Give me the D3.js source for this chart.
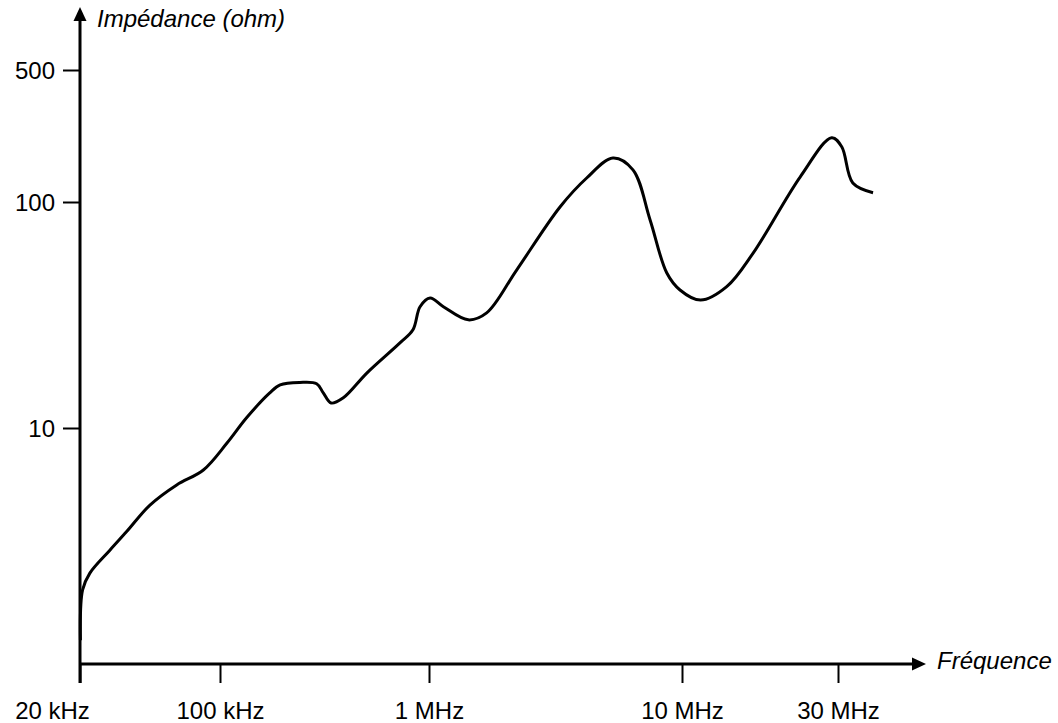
<!DOCTYPE html>
<html>
<head>
<meta charset="utf-8">
<script src="https://cdn.jsdelivr.net/npm/d3@7"></script>
<style>
  body { margin: 0; background: #fff; }
  svg { display: block; font-family: "Liberation Sans", Arial, sans-serif; }
  .tick text { font-size: 24px; fill: #000; }
  .axis-title { font-size: 24px; font-style: italic; }
</style>
</head>
<body>
<svg id="chart" width="1058" height="723"></svg>
<script>
const freqKHz = [20.1, 20.6, 22.4, 28.2, 34.2, 44.7, 60.8, 82.6, 108, 134,
  173, 194, 241, 290, 312, 340, 389, 504, 726, 838,
  906, 1010, 1140, 1430, 1690, 2220, 3300, 4200, 5330, 6400,
  7480, 8710, 9820, 11400, 13700, 16500, 23000, 28700, 30800, 33300, 38400];
const impedance = [1.15, 1.92, 2.28, 2.88, 3.48, 4.56, 5.6, 6.52, 8.58, 11.1,
  14.3, 15.5, 15.9, 15.7, 14.3, 12.9, 13.6, 17.5, 23.8, 27.2,
  34.4, 37.6, 34.4, 30.1, 32.3, 50, 95.3, 134, 171, 148,
  83.3, 48.5, 40.8, 36.8, 42.2, 59.4, 136, 219, 196, 126, 112];

const xTicks = [20, 100, 1000, 10000, 30000];
const xTickLabels = ["20 kHz", "100 kHz", "1 MHz", "10 MHz", "30 MHz"];
const yTicks = [10, 100, 500];

const data = freqKHz.map((f, i) => ({ f: f, z: impedance[i] }));

const svg = d3.select("#chart");

// the drawing's log axes are not evenly spaced, so use piecewise log scales
const x = d3.scaleLog().domain(xTicks).range([80, 220, 429, 682, 838]);
const y = d3.scaleLog().domain([10, 100, 500]).range([428, 202, 70]);

const x0 = 80, y0 = 664;

// axes ticks
const xAxis = svg.append("g")
  .attr("transform", `translate(0,${y0})`)
  .call(d3.axisBottom(x).tickValues(xTicks).tickSize(19).tickSizeOuter(0)
    .tickFormat((d, i) => xTickLabels[i]));
xAxis.select(".domain").remove();
xAxis.selectAll(".tick line").attr("stroke", "#000").attr("stroke-width", 2);
xAxis.selectAll(".tick text").attr("y", 0).attr("dy", 55);
xAxis.selectAll(".tick").filter((d, i) => i === 0).select("text").attr("dx", -28);

const yAxis = svg.append("g")
  .attr("transform", `translate(${x0},0)`)
  .call(d3.axisLeft(y).tickValues(yTicks).tickSize(17).tickSizeOuter(0)
    .tickFormat(d3.format("d")));
yAxis.select(".domain").remove();
yAxis.selectAll(".tick line").attr("stroke", "#000").attr("stroke-width", 2);
yAxis.selectAll(".tick text").attr("x", -25).attr("dy", "0.35em");

// axis lines with arrow heads
svg.append("line")
  .attr("x1", x0).attr("x2", 912).attr("y1", y0).attr("y2", y0)
  .attr("stroke", "#000").attr("stroke-width", 3);
svg.append("path")
  .attr("d", `M912,${y0 - 6.5}L926,${y0}L912,${y0 + 6.5}Z`)
  .attr("fill", "#000");

svg.append("line")
  .attr("x1", x0).attr("x2", x0).attr("y1", 683).attr("y2", 21)
  .attr("stroke", "#000").attr("stroke-width", 3);
svg.append("path")
  .attr("d", `M${x0 - 6.5},21L${x0},7L${x0 + 6.5},21Z`)
  .attr("fill", "#000");

svg.append("text")
  .attr("class", "axis-title")
  .attr("x", 97).attr("y", 27)
  .text("Impédance (ohm)");

svg.append("text")
  .attr("class", "axis-title")
  .attr("x", 937).attr("y", 669)
  .text("Fréquence");

// impedance curve
const line = d3.line()
  .x(d => x(d.f))
  .y(d => y(d.z))
  .curve(d3.curveCatmullRom.alpha(0.5));

svg.append("path")
  .datum(data)
  .attr("fill", "none")
  .attr("stroke", "#000")
  .attr("stroke-width", 3)
  .attr("stroke-linejoin", "round")
  .attr("d", line);
</script>
</body>
</html>
